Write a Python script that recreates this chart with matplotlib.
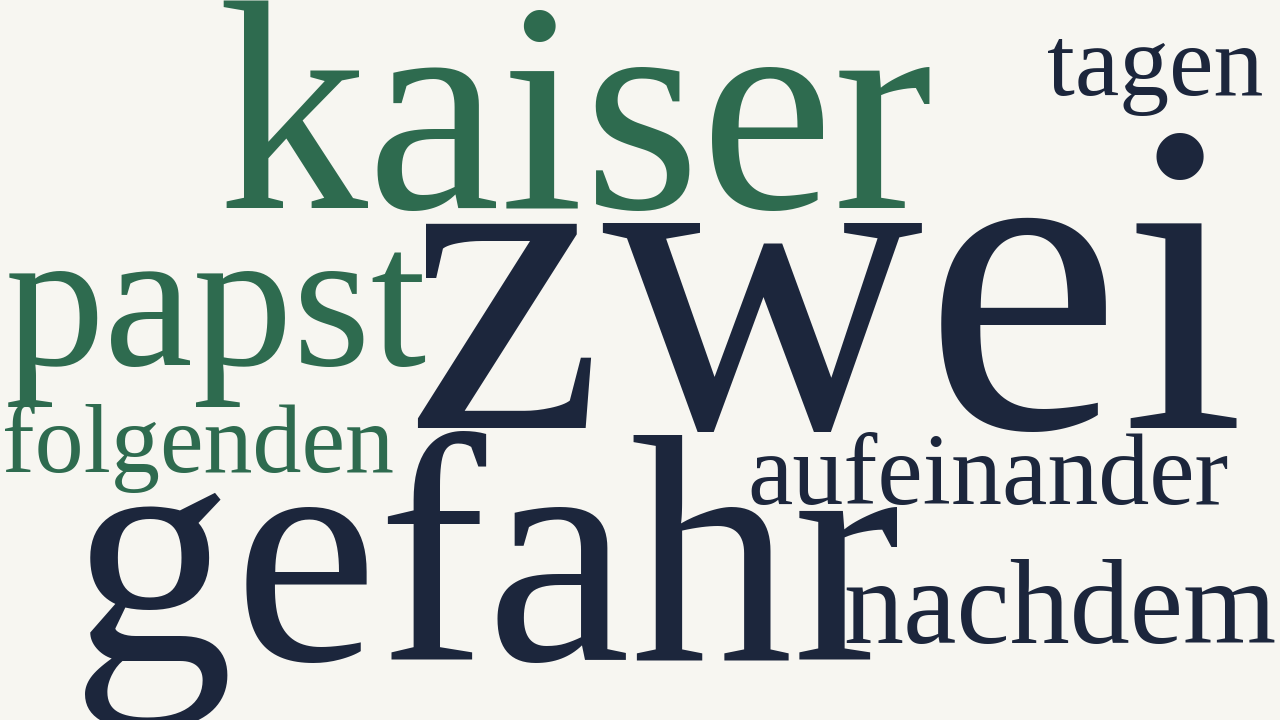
import matplotlib
matplotlib.use("Agg")
import matplotlib.pyplot as plt

# ---- data ----
words = ["zwei", "gefahr", "kaiser", "papst", "nachdem", "aufeinander", "tagen", "folgenden"]
weights = [445, 325, 300, 200, 120, 102, 100, 98]          # relative word sizes (px font size)
groups = ["navy", "navy", "green", "green", "navy", "navy", "navy", "green"]

# ---- layout (centre x, baseline y in pixels) ----
layout = {
    "zwei": (825, 428),
    "gefahr": (486, 660),
    "kaiser": (575, 208),
    "papst": (216, 365),
    "nachdem": (1060, 643),
    "aufeinander": (988, 504),
    "tagen": (1155, 95),
    "folgenden": (198, 472),
}
palette = {"navy": "#1c263c", "green": "#2e6b4f"}
bg = "#f7f6f1"

fig = plt.figure(figsize=(12.8, 7.2), dpi=100, facecolor=bg)
ax = fig.add_axes([0, 0, 1, 1])
ax.set_xlim(0, 1280)
ax.set_ylim(720, 0)
ax.set_facecolor(bg)
ax.axis("off")

for w, s, g in zip(words, weights, groups):
    x, y = layout[w]
    ax.text(x, y, w, fontsize=s * 72 / 100, family="Liberation Serif",
            color=palette[g], ha="center", va="baseline")

fig.savefig("out.png", dpi=100, facecolor=bg)
